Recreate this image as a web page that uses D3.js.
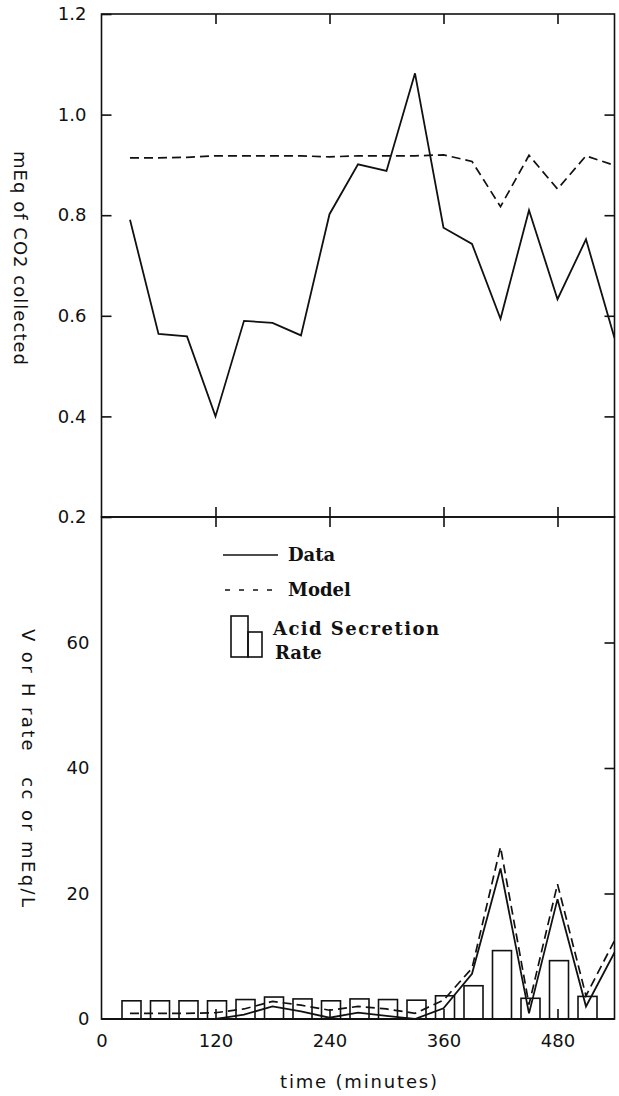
<!DOCTYPE html>
<html><head><meta charset="utf-8">
<script src="https://cdn.jsdelivr.net/npm/d3@7"></script>
<style>body{margin:0;background:#fff} svg{display:block}</style>
</head><body>
<svg id="chart" width="619" height="1096"></svg>
<script>
const times = [30,60,90,120,150,180,210,240,270,300,330,360,390,420,450,480,510,540];
const co2Data = [0.791,0.564,0.559,0.400,0.590,0.586,0.561,0.802,0.901,0.888,1.082,0.775,0.743,0.594,0.810,0.633,0.752,0.556];
const co2Model = [0.914,0.914,0.915,0.918,0.918,0.918,0.918,0.916,0.918,0.918,0.918,0.920,0.907,0.817,0.919,0.852,0.918,0.899];
const rateData = [0,0,0,0,0.7,2.0,1.2,0.2,1.0,0.5,0,1.7,7.2,24.0,0.9,19.1,2.0,10.6];
const rateModel = [0.9,0.9,0.9,1.0,1.6,2.8,2.2,1.4,2.0,1.6,0.9,3.0,8.1,27.4,2.3,21.5,3.7,12.5];
const barTimes = [30,60,90,120,150,180,210,240,270,300,330,360,390,420,450,480,510];
const acidRate = [2.9,2.9,2.9,2.9,3.1,3.5,3.2,2.9,3.2,3.1,3.0,3.7,5.3,10.9,3.3,9.3,3.6];
const xTicks = [0,120,240,360,480];
const topTicks = [0.2,0.4,0.6,0.8,1.0,1.2];
const botTicks = [0,20,40,60];
const legendItems = ["Data","Model"];

const svg = d3.select("#chart");
const L = 101.5, R = 614.5, T = 14, MID = 517, B = 1019;
const x = d3.scaleLinear().domain([0,540]).range([L,R]);
const yTop = d3.scaleLinear().domain([0.2,1.2]).range([MID,T]);
const yBot = d3.scaleLinear().domain([0,80]).range([B,MID]);

const sans = "DejaVu Sans", serif = "DejaVu Serif";
const ink = "#111";

svg.append("defs").append("clipPath").attr("id","clipTop").append("rect")
  .attr("x",L).attr("y",T).attr("width",R-L).attr("height",MID-T);
svg.select("defs").append("clipPath").attr("id","clipBot").append("rect")
  .attr("x",L).attr("y",MID).attr("width",R-L).attr("height",B-MID);

function styleAxis(g, fs){
  g.select(".domain").remove();
  g.selectAll(".tick line").attr("stroke",ink).attr("stroke-width",1.6);
  g.selectAll(".tick text").attr("fill",ink).attr("font-family",sans).attr("font-size",fs);
}

// ---- Top panel axes ----
svg.append("g").attr("transform",`translate(${L},0)`)
  .call(d3.axisLeft(yTop).tickValues(topTicks).tickSizeInner(-10).tickSizeOuter(0).tickPadding(15).tickFormat(d3.format(".1f")))
  .call(g=>styleAxis(g,18));
svg.append("g").attr("transform",`translate(${R},0)`)
  .call(d3.axisRight(yTop).tickValues(topTicks.slice(1,-1)).tickSizeInner(-10).tickSizeOuter(0).tickFormat(""))
  .call(g=>styleAxis(g,18));
svg.append("g").attr("transform",`translate(0,${T})`)
  .call(d3.axisTop(x).tickValues(xTicks.slice(1)).tickSizeInner(-10).tickSizeOuter(0).tickFormat(""))
  .call(g=>styleAxis(g,18));
svg.append("g").attr("transform",`translate(0,${MID})`)
  .call(d3.axisBottom(x).tickValues(xTicks.slice(1)).tickSizeInner(-10).tickSizeOuter(0).tickFormat(""))
  .call(g=>styleAxis(g,18));

// ---- Bottom panel axes ----
svg.append("g").attr("transform",`translate(${L},0)`)
  .call(d3.axisLeft(yBot).tickValues(botTicks).tickSizeInner(0).tickSizeOuter(0).tickPadding(12).tickFormat(d3.format("d")))
  .call(g=>styleAxis(g,18));
svg.append("g").attr("transform",`translate(${R},0)`)
  .call(d3.axisRight(yBot).tickValues(botTicks.slice(1)).tickSizeInner(-10).tickSizeOuter(0).tickFormat(""))
  .call(g=>styleAxis(g,18));
svg.append("g").attr("transform",`translate(0,${MID})`)
  .call(d3.axisTop(x).tickValues(xTicks.slice(1)).tickSizeInner(-10).tickSizeOuter(0).tickFormat(""))
  .call(g=>styleAxis(g,18));

// frames
svg.append("rect").attr("x",L).attr("y",T).attr("width",R-L).attr("height",MID-T)
  .attr("fill","none").attr("stroke",ink).attr("stroke-width",1.6);
svg.append("rect").attr("x",L).attr("y",MID).attr("width",R-L).attr("height",B-MID)
  .attr("fill","none").attr("stroke",ink).attr("stroke-width",1.6);

// ---- Top panel lines ----
const lineTop = d3.line().x((d,i)=>x(times[i])).y(d=>yTop(d));
const gTop = svg.append("g").attr("clip-path","url(#clipTop)");
gTop.append("path").attr("d",lineTop(co2Model)).attr("fill","none").attr("stroke",ink)
  .attr("stroke-width",1.7).attr("stroke-dasharray","9,5");
gTop.append("path").attr("d",lineTop(co2Data)).attr("fill","none").attr("stroke",ink)
  .attr("stroke-width",1.8);

// ---- Bottom panel bars and lines ----
const gBot = svg.append("g").attr("clip-path","url(#clipBot)");
const bw = x(20) - x(0);
gBot.selectAll("rect.bar").data(acidRate).join("rect").attr("class","bar")
  .attr("x",(d,i)=>x(barTimes[i]) - bw/2 + 1.5)
  .attr("y",d=>yBot(d)).attr("width",bw).attr("height",d=>yBot(0)-yBot(d))
  .attr("fill","#fff").attr("stroke",ink).attr("stroke-width",1.6);
const lineBot = d3.line().x((d,i)=>x(times[i])).y(d=>yBot(d));
gBot.append("path").attr("d",lineBot(rateModel)).attr("fill","none").attr("stroke",ink)
  .attr("stroke-width",1.7).attr("stroke-dasharray","9,5");
gBot.append("path").attr("d",lineBot(rateData)).attr("fill","none").attr("stroke",ink)
  .attr("stroke-width",1.8);

// bottom x axis (drawn after bars so ticks show)
svg.append("g").attr("transform",`translate(0,${B})`)
  .call(d3.axisBottom(x).tickValues(xTicks).tickSizeInner(-10).tickSizeOuter(0).tickPadding(15).tickFormat(d3.format("d")))
  .call(g=>{styleAxis(g,18); g.selectAll(".tick").filter(d=>d===0).select("line").remove();});
svg.append("line").attr("x1",L).attr("x2",R).attr("y1",B).attr("y2",B).attr("stroke",ink).attr("stroke-width",1.8);

// ---- Axis titles ----
svg.append("text").attr("transform","translate(14,258) rotate(90)")
  .attr("text-anchor","middle").attr("font-family",sans).attr("font-size",18).attr("fill",ink)
  .attr("textLength",214).attr("lengthAdjust","spacing")
  .text("mEq of CO2 collected");
svg.append("text").attr("transform","translate(22,768) rotate(90)")
  .attr("text-anchor","middle").attr("font-family",sans).attr("font-size",18).attr("fill",ink)
  .attr("xml:space","preserve").style("white-space","pre")
  .attr("textLength",278).attr("lengthAdjust","spacing")
  .text("V or H rate   cc or mEq/L");
svg.append("text").attr("x",(280+437)/2).attr("y",1088)
  .attr("text-anchor","middle").attr("font-family",sans).attr("font-size",18).attr("fill",ink)
  .attr("textLength",157).attr("lengthAdjust","spacing")
  .text("time (minutes)");

// ---- Legend ----
const lg = svg.append("g");
lg.append("line").attr("x1",223).attr("x2",278).attr("y1",555).attr("y2",555)
  .attr("stroke",ink).attr("stroke-width",1.6);
lg.append("line").attr("x1",225).attr("x2",280).attr("y1",590).attr("y2",590)
  .attr("stroke",ink).attr("stroke-width",1.6).attr("stroke-dasharray","5,9");
lg.selectAll("text.li").data(legendItems).join("text").attr("class","li")
  .attr("x",288).attr("y",(d,i)=>561 + i*35)
  .attr("font-family",serif).attr("font-weight","bold").attr("font-size",18).attr("fill",ink)
  .text(d=>d);
lg.append("rect").attr("x",231).attr("y",616).attr("width",17).attr("height",41)
  .attr("fill","none").attr("stroke",ink).attr("stroke-width",1.6);
lg.append("rect").attr("x",248).attr("y",632).attr("width",14).attr("height",25)
  .attr("fill","none").attr("stroke",ink).attr("stroke-width",1.6);
lg.append("text").attr("x",273).attr("y",635)
  .attr("font-family",serif).attr("font-weight","bold").attr("font-size",18).attr("fill",ink)
  .attr("textLength",166).attr("lengthAdjust","spacing").text("Acid Secretion");
lg.append("text").attr("x",275).attr("y",659)
  .attr("font-family",serif).attr("font-weight","bold").attr("font-size",18).attr("fill",ink)
  .text("Rate");
</script>
</body></html>
